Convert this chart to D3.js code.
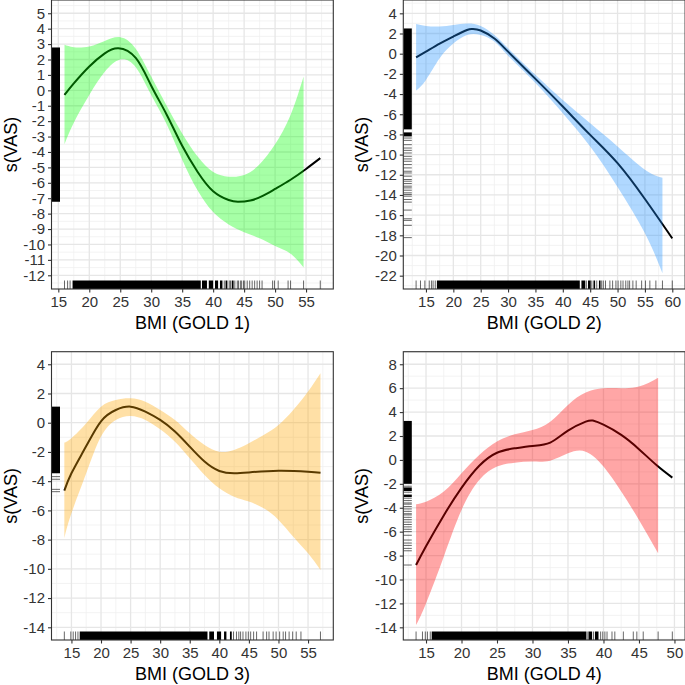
<!DOCTYPE html>
<html><head><meta charset="utf-8">
<script src="https://cdn.jsdelivr.net/npm/d3@7"></script>
<style>
body{margin:0;background:#fff}
svg{display:block}
text{font-family:"Liberation Sans",Arial,sans-serif}
</style>
</head><body>
<svg id="c" width="685" height="685"></svg>
<script>
// ---------------- GOLD 1 ----------------
const g1LineX = [16.0, 17.5, 20, 22.5, 24.7, 27.5, 30, 32.5, 35, 37.5, 40, 42.5, 44, 46, 48, 50, 52.5, 55, 57.3];
const g1LineY = [-0.29, 0.45, 1.55, 2.4, 2.73, 2.1, 0.3, -1.58, -3.6, -5.3, -6.55, -7.12, -7.23, -7.15, -6.85, -6.4, -5.8, -5.1, -4.4];
const g1BandX = [16.0, 17.5, 20, 22.5, 25, 27.5, 30, 32.5, 35, 37.5, 40, 42.5, 45, 47.5, 50, 52.5, 54.6];
const g1Upper = [2.95, 2.8, 2.85, 3.2, 3.45, 2.7, 0.9, -1.0, -2.8, -4.3, -5.3, -5.6, -5.5, -4.8, -3.5, -1.6, 0.9];
const g1Lower = [-3.5, -2.1, -0.3, 1.2, 2.0, 1.5, -0.3, -2.2, -4.5, -6.5, -7.9, -8.7, -9.2, -9.6, -10.1, -10.6, -11.5];
const g1RugXDense = [[17.3, 38.0], [38.2, 39.0], [39.3, 40.0], [40.3, 40.8], [41.1, 41.5], [42.0, 42.3], [43.0, 43.3]];
const g1RugX = [16.0, 16.5, 16.9, 41.8, 42.6, 42.8, 43.5, 43.9, 44.1, 44.4, 44.6, 44.9, 45.1, 45.5, 45.9, 46.3, 46.7, 47.1, 47.5, 47.9, 49.6, 49.9, 50.5, 52.1, 52.5, 54.6, 57.3];
const g1RugYDense = [[-7.23, 2.78]];
const g1RugY = [];
const g1YTicks = [5, 4, 3, 2, 1, 0, -1, -2, -3, -4, -5, -6, -7, -8, -9, -10, -11, -12];
const g1XTicks = [15, 20, 25, 30, 35, 40, 45, 50, 55];

// ---------------- GOLD 2 ----------------
const g2LineX = [13.2, 15, 17.5, 20, 22.5, 23.5, 25, 27.5, 30, 35, 40, 45, 50, 55, 60];
const g2LineY = [-0.36, 0.2, 1.0, 1.7, 2.35, 2.45, 2.3, 1.5, 0.2, -2.5, -5.24, -8.05, -10.85, -14.4, -18.3];
const g2BandX = [13.2, 15, 17.5, 20, 22.5, 25, 27.5, 30, 35, 40, 45, 50, 55, 58.2];
const g2Upper = [2.95, 2.75, 2.7, 2.85, 3.0, 2.75, 1.85, 0.55, -2.1, -4.6, -6.9, -9.2, -11.5, -12.3];
const g2Lower = [-3.65, -2.6, -0.45, 1.0, 1.85, 1.85, 1.2, -0.2, -2.9, -5.9, -9.2, -13.2, -17.8, -21.75];
const g2RugXDense = [[17.0, 43.1], [43.4, 44.1], [44.6, 45.1], [45.6, 45.9], [46.6, 46.9]];
const g2RugX = [13.2, 14.0, 14.8, 15.6, 16.0, 16.3, 16.7, 44.3, 45.3, 46.2, 47.1, 47.4, 47.8, 48.6, 49.1, 49.7, 50.1, 50.6, 51.0, 51.5, 51.9, 52.2, 52.8, 53.4, 54.4, 55.1, 55.9, 57.0, 58.2, 60.0];
const g2RugYDense = [[-7.5, 2.5], [-8.2, -7.8]];
const g2RugY = [-8.36, -8.59, -9.02, -9.35, -9.58, -9.84, -10.17, -10.43, -10.66, -10.99, -11.32, -11.65, -11.82, -12.14, -12.47, -12.64, -12.87, -13.13, -13.3, -13.53, -13.79, -13.95, -14.12, -14.45, -14.71, -15.5, -16.36, -16.52, -17.01, -18.23];
const g2YTicks = [4, 2, 0, -2, -4, -6, -8, -10, -12, -14, -16, -18, -20, -22];
const g2XTicks = [15, 20, 25, 30, 35, 40, 45, 50, 55, 60];

// ---------------- GOLD 3 ----------------
const g3LineX = [13.8, 15, 17.5, 20, 22.5, 25, 27.5, 30, 32.5, 35, 37.5, 40, 42.5, 45, 50, 55, 57.1];
const g3LineY = [-4.65, -3.46, -1.6, 0.1, 0.87, 1.1, 0.76, 0.19, -0.6, -1.64, -2.66, -3.3, -3.46, -3.4, -3.28, -3.35, -3.42];
const g3BandX = [13.8, 15, 17.5, 20, 22.5, 25, 27.5, 30, 32.5, 35, 37.5, 40, 42.5, 45, 47.5, 50, 52.5, 55, 57.1];
const g3Upper = [-1.36, -1.06, -0.04, 1.1, 1.56, 1.67, 1.44, 0.87, 0.19, -0.72, -1.52, -1.98, -1.86, -1.4, -0.84, -0.15, 0.87, 2.13, 3.38];
const g3Lower = [-7.9, -6.2, -3.46, -0.95, 0.19, 0.46, 0.19, -0.45, -1.3, -2.43, -3.57, -4.48, -5.06, -5.4, -5.86, -6.65, -7.8, -8.94, -10.08];
const g3RugXDense = [[16.4, 38.0], [38.3, 39.1], [39.6, 40.3], [40.8, 41.2], [41.8, 42.1]];
const g3RugX = [13.8, 14.9, 15.3, 15.7, 16.1, 42.4, 42.9, 43.3, 43.6, 44.0, 44.5, 44.9, 45.3, 45.8, 46.3, 47.4, 48.0, 48.4, 49.1, 49.6, 50.2, 50.8, 51.2, 51.8, 52.4, 53.0, 53.8, 57.1];
const g3RugYDense = [[-3.46, 1.1]];
const g3RugY = [-3.69, -3.87, -4.56, -4.72];
const g3YTicks = [4, 2, 0, -2, -4, -6, -8, -10, -12, -14];
const g3XTicks = [15, 20, 25, 30, 35, 40, 45, 50, 55];

// ---------------- GOLD 4 ----------------
const g4LineX = [13.6, 15, 17.5, 20, 22.5, 25, 27.5, 30, 32.5, 35, 37.5, 38.5, 40, 42.5, 45, 47.5, 49.7];
const g4LineY = [-8.79, -7.22, -4.64, -2.34, -0.49, 0.6, 0.97, 1.17, 1.45, 2.45, 3.2, 3.29, 2.95, 2.09, 0.9, -0.45, -1.48];
const g4BandX = [13.6, 15, 17.5, 20, 22.5, 25, 27.5, 30, 32.5, 35, 37.5, 40, 42.5, 45, 47.7];
const g4Upper = [-3.71, -3.49, -2.65, -1.12, 0.41, 1.53, 2.14, 2.5, 3.2, 4.6, 5.63, 5.99, 6.0, 6.13, 6.88];
const g4Lower = [-13.8, -12.0, -8.1, -4.19, -1.68, -0.56, -0.23, -0.14, -0.06, 0.55, 0.69, -0.56, -2.65, -5.02, -7.8];
const g4RugXDense = [[15.8, 37.6], [37.9, 38.4], [38.8, 39.3]];
const g4RugX = [13.6, 14.5, 14.9, 15.2, 15.6, 37.8, 38.6, 39.6, 39.9, 40.2, 40.5, 41.2, 41.6, 42.8, 44.2, 44.7, 45.6, 47.7, 49.7];
const g4RugYDense = [[-2.0, 3.26], [-2.6, -2.3], [-3.1, -2.9]];
const g4RugY = [-2.2, -2.7, -3.2, -3.4, -3.6, -3.7, -3.9, -4.1, -4.3, -4.5, -4.6, -4.8, -5.0, -5.2, -5.4, -5.6, -5.8, -6.0, -6.3, -6.7, -6.95, -7.15, -7.4, -7.6, -8.79];
const g4YTicks = [8, 6, 4, 2, 0, -2, -4, -6, -8, -10, -12, -14];
const g4XTicks = [15, 20, 25, 30, 35, 40, 45, 50];

const xTitles = ["BMI (GOLD 1)", "BMI (GOLD 2)", "BMI (GOLD 3)", "BMI (GOLD 4)"];
const yTitle = "s(VAS)";
const fills = ["#00ff00", "#1e90ff", "#ffa500", "#ff0000"];

// ---------------- build ----------------
const panels = [
  {lx:g1LineX, ly:g1LineY, bx:g1BandX, bu:g1Upper, bl:g1Lower, rxd:g1RugXDense, rx:g1RugX, ryd:g1RugYDense, ry:g1RugY, yt:g1YTicks, xt:g1XTicks,
   xd:[13.9, 59.4], yd:[-12.89, 5.86], ystep:1, box:[51.5, 0, 333.3, 289]},
  {lx:g2LineX, ly:g2LineY, bx:g2BandX, bu:g2Upper, bl:g2Lower, rxd:g2RugXDense, rx:g2RugX, ryd:g2RugYDense, ry:g2RugY, yt:g2YTicks, xt:g2XTicks,
   xd:[10.86, 62.34], yd:[-23.32, 5.32], ystep:2, box:[403.3, 0, 685.1, 289]},
  {lx:g3LineX, ly:g3LineY, bx:g3BandX, bu:g3Upper, bl:g3Lower, rxd:g3RugXDense, rx:g3RugX, ryd:g3RugYDense, ry:g3RugY, yt:g3YTicks, xt:g3XTicks,
   xd:[11.63, 59.27], yd:[-14.87, 4.86], ystep:2, box:[51.5, 351.7, 333.3, 640]},
  {lx:g4LineX, ly:g4LineY, bx:g4BandX, bu:g4Upper, bl:g4Lower, rxd:g4RugXDense, rx:g4RugX, ryd:g4RugYDense, ry:g4RugY, yt:g4YTicks, xt:g4XTicks,
   xd:[11.8, 51.5], yd:[-15.06, 9.05], ystep:2, box:[403.3, 351.7, 685.1, 640]}
];

const svg = d3.select("#c");

panels.forEach((p, i) => {
  const [x0, y0, x1, y1] = p.box;
  const x = d3.scaleLinear().domain(p.xd).range([x0, x1]);
  const y = d3.scaleLinear().domain(p.yd).range([y1, y0]);
  const g = svg.append("g");
  const cid = "clip" + i;
  svg.append("clipPath").attr("id", cid).append("rect")
    .attr("x", x0).attr("y", y0).attr("width", x1 - x0).attr("height", y1 - y0);
  const inner = g.append("g").attr("clip-path", `url(#${cid})`);

  // minor grid
  const xMinor = p.xt.map(v => v - 2.5).concat([p.xt[p.xt.length - 1] + 2.5]);
  const yMinor = p.yt.map(v => v - p.ystep / 2).concat([p.yt[0] + p.ystep / 2]);
  inner.selectAll(".xm").data(xMinor).join("line")
    .attr("x1", d => x(d)).attr("x2", d => x(d)).attr("y1", y0).attr("y2", y1)
    .attr("stroke", "#f0f0f0").attr("stroke-width", 0.8);
  inner.selectAll(".ym").data(yMinor).join("line")
    .attr("y1", d => y(d)).attr("y2", d => y(d)).attr("x1", x0).attr("x2", x1)
    .attr("stroke", "#f0f0f0").attr("stroke-width", 0.8);
  // major grid
  inner.selectAll(".xM").data(p.xt).join("line")
    .attr("x1", d => x(d)).attr("x2", d => x(d)).attr("y1", y0).attr("y2", y1)
    .attr("stroke", "#e6e6e6").attr("stroke-width", 1.3);
  inner.selectAll(".yM").data(p.yt).join("line")
    .attr("y1", d => y(d)).attr("y2", d => y(d)).attr("x1", x0).attr("x2", x1)
    .attr("stroke", "#e6e6e6").attr("stroke-width", 1.3);

  // fitted line
  const lineData = p.lx.map((v, k) => [v, p.ly[k]]);
  inner.append("path").datum(lineData)
    .attr("d", d3.line().x(d => x(d[0])).y(d => y(d[1])).curve(d3.curveNatural))
    .attr("fill", "none").attr("stroke", "#000").attr("stroke-width", 2);

  // confidence band over the line
  const bandData = p.bx.map((v, k) => [v, p.bl[k], p.bu[k]]);
  inner.append("path").datum(bandData)
    .attr("d", d3.area().x(d => x(d[0])).y0(d => y(d[1])).y1(d => y(d[2])).curve(d3.curveNatural))
    .attr("fill", fills[i]).attr("fill-opacity", 0.35);

  // rugs
  const rugLen = 8.5;
  inner.selectAll(".rxd").data(p.rxd).join("rect")
    .attr("x", d => x(d[0])).attr("width", d => x(d[1]) - x(d[0]))
    .attr("y", y1 - rugLen).attr("height", rugLen).attr("fill", "#000");
  inner.selectAll(".rx").data(p.rx).join("line")
    .attr("x1", d => x(d)).attr("x2", d => x(d)).attr("y1", y1).attr("y2", y1 - rugLen)
    .attr("stroke", "#000").attr("stroke-width", 0.6);
  inner.selectAll(".ryd").data(p.ryd).join("rect")
    .attr("y", d => y(d[1])).attr("height", d => y(d[0]) - y(d[1]))
    .attr("x", x0).attr("width", rugLen).attr("fill", "#000");
  inner.selectAll(".ry").data(p.ry).join("line")
    .attr("y1", d => y(d)).attr("y2", d => y(d)).attr("x1", x0).attr("x2", x0 + rugLen)
    .attr("stroke", "#000").attr("stroke-width", 0.6);

  // border
  g.append("rect").attr("x", x0).attr("y", y0).attr("width", x1 - x0).attr("height", y1 - y0)
    .attr("fill", "none").attr("stroke", "#333").attr("stroke-width", 1.1);

  // axes
  const ax = g.append("g").attr("transform", `translate(0,${y1})`)
    .call(d3.axisBottom(x).tickValues(p.xt).tickSize(3.5).tickPadding(4).tickFormat(d3.format("d")));
  const ay = g.append("g").attr("transform", `translate(${x0},0)`)
    .call(d3.axisLeft(y).tickValues(p.yt).tickSize(3.5).tickPadding(3).tickFormat(d => String(d)));
  [ax, ay].forEach(a => {
    a.select(".domain").remove();
    a.selectAll(".tick line").attr("stroke", "#333").attr("stroke-width", 1.1);
    a.selectAll(".tick text").attr("fill", "#333").style("font-size", "15px")
      .style("font-family", '"Liberation Sans", Arial, sans-serif');
  });

  // titles
  g.append("text").attr("x", (x0 + x1) / 2).attr("y", y1 + 39.5)
    .attr("text-anchor", "middle").style("font-size", "18px").attr("fill", "#000").text(xTitles[i]);
  const tx = x0 - 35;
  g.append("text").attr("transform", `translate(${tx},${(y0 + y1) / 2}) rotate(-90)`)
    .attr("text-anchor", "middle").style("font-size", "18px").attr("fill", "#000").text(yTitle);
});
</script>
</body></html>
